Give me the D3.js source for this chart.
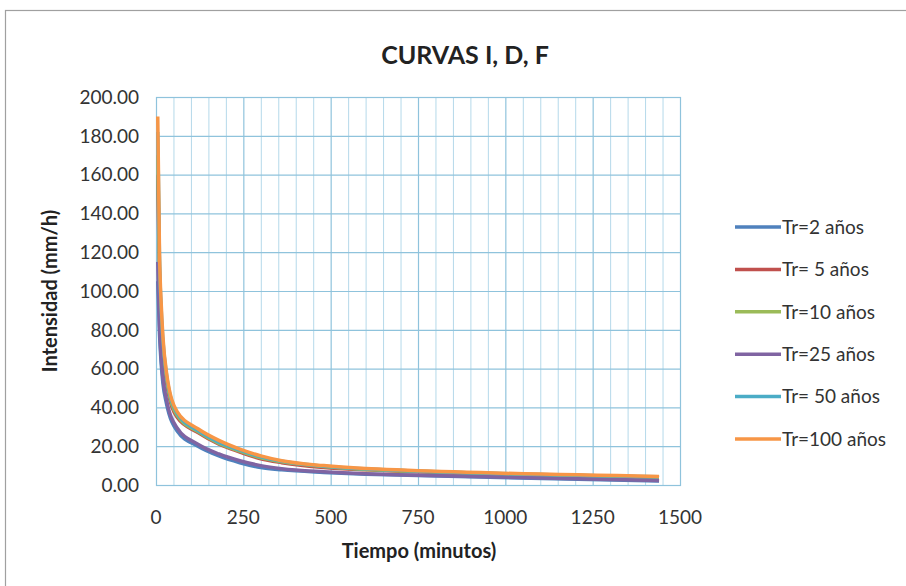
<!DOCTYPE html>
<html>
<head>
<meta charset="utf-8">
<script src="https://cdn.jsdelivr.net/npm/d3@7"></script>
<style>
  body { margin: 0; background: #fff; }
  svg { display: block; font-family: Lato, "Open Sans", sans-serif; }
</style>
</head>
<body>
<div id="chart"></div>
<script>
// duraciones (minutos) e intensidades (mm/h)
const durations = [5, 10, 15, 20, 30, 60, 120, 180, 240, 300, 360, 480, 600, 720, 1440];
const tr2   = [105, 78, 62, 52, 42, 28, 20, 15, 11.5, 9, 7.8, 6.5, 5.6, 5, 2];
const tr5   = [160, 105, 82, 68, 53, 35, 27, 21, 17, 13.5, 11.5, 9, 7.8, 7, 3.8];
const tr10  = [170, 110, 86, 71, 55, 36, 27.5, 21.5, 17.5, 14, 12, 9.5, 8, 7.2, 4];
const tr25  = [115, 82, 65, 55, 44, 29.5, 21, 16, 12.5, 10, 8.4, 6.8, 5.8, 5.2, 2.3];
const tr50  = [182, 116, 90, 74, 57, 37, 28, 22, 18, 14.5, 12.2, 9.7, 8.3, 7.4, 4.2];
const tr100 = [190, 120, 93, 76, 58, 38, 29, 23, 18.5, 15, 12.5, 10, 8.5, 7.6, 4.4];

const seriesNames = ["Tr=2 años", "Tr= 5 años", "Tr=10 años", "Tr=25 años", "Tr= 50 años", "Tr=100 años"];
const seriesColors = ["#4f81bd", "#c0504d", "#9bbb59", "#8064a2", "#4bacc6", "#f79646"];
const yTicks = [0, 20, 40, 60, 80, 100, 120, 140, 160, 180, 200];
const xTicks = [0, 250, 500, 750, 1000, 1250, 1500];

const width = 906, height = 586;
const plot = {left: 156, right: 680, top: 97, bottom: 485};

const svg = d3.select("#chart").append("svg")
    .attr("width", width)
    .attr("height", height);

// marco del gráfico
svg.append("rect")
    .attr("x", 5.5).attr("y", 10.5)
    .attr("width", width + 10).attr("height", height + 10)
    .attr("fill", "#fff")
    .attr("stroke", "#a0a0a0")
    .attr("stroke-width", 1.2);

const x = d3.scaleLinear().domain([0, 1500]).range([plot.left, plot.right]);
const y = d3.scaleLinear().domain([0, 200]).range([plot.bottom, plot.top]);

// rejilla menor vertical (cada 50 min)
svg.append("g")
    .selectAll("line")
    .data(d3.range(50, 1500, 50).filter(v => v % 250 !== 0))
    .join("line")
    .attr("x1", d => x(d) + 0.5).attr("x2", d => x(d) + 0.5)
    .attr("y1", plot.top).attr("y2", plot.bottom)
    .attr("stroke", "#b5d9ea")
    .attr("stroke-width", 1);

// rejilla principal
svg.append("g")
    .selectAll("line")
    .data(xTicks.slice(1, -1))
    .join("line")
    .attr("x1", d => x(d) + 0.5).attr("x2", d => x(d) + 0.5)
    .attr("y1", plot.top).attr("y2", plot.bottom)
    .attr("stroke", "#8fc3dc")
    .attr("stroke-width", 1.2);

svg.append("g")
    .selectAll("line")
    .data(yTicks)
    .join("line")
    .attr("x1", plot.left).attr("x2", plot.right)
    .attr("y1", d => y(d) + 0.5).attr("y2", d => y(d) + 0.5)
    .attr("stroke", "#8fc3dc")
    .attr("stroke-width", 1.2);

// borde del área de trazado
svg.append("rect")
    .attr("x", plot.left + 0.5).attr("y", plot.top + 0.5)
    .attr("width", plot.right - plot.left).attr("height", plot.bottom - plot.top)
    .attr("fill", "none")
    .attr("stroke", "#8fc3dc")
    .attr("stroke-width", 1.2);

// etiquetas de ejes
svg.append("g")
    .selectAll("text")
    .data(yTicks)
    .join("text")
    .attr("x", 139)
    .attr("y", d => y(d))
    .attr("dy", "0.36em")
    .attr("text-anchor", "end")
    .attr("font-size", 19)
    .attr("fill", "#333")
    .text(d => d3.format(".2f")(d));

svg.append("g")
    .selectAll("text")
    .data(xTicks)
    .join("text")
    .attr("x", d => x(d))
    .attr("y", 524)
    .attr("text-anchor", "middle")
    .attr("font-size", 19)
    .attr("fill", "#333")
    .text(d => d);

svg.append("text")
    .attr("x", 465).attr("y", 64)
    .attr("text-anchor", "middle")
    .attr("font-size", 25)
    .attr("font-weight", "bold")
    .attr("fill", "#222")
    .text("CURVAS I, D, F");

svg.append("text")
    .attr("x", 419).attr("y", 558)
    .attr("text-anchor", "middle")
    .attr("font-size", 20)
    .attr("font-weight", "bold")
    .attr("fill", "#222")
    .text("Tiempo (minutos)");

svg.append("text")
    .attr("transform", "translate(57,291) rotate(-90)")
    .attr("text-anchor", "middle")
    .attr("font-size", 20)
    .attr("font-weight", "bold")
    .attr("fill", "#222")
    .text("Intensidad (mm/h)");

// curvas
const allSeries = [tr2, tr5, tr10, tr25, tr50, tr100];
const line = d3.line()
    .x((d, i) => x(durations[i]))
    .y(d => y(d))
    .curve(d3.curveMonotoneX);

svg.append("g")
    .selectAll("path")
    .data(allSeries)
    .join("path")
    .attr("d", d => line(d))
    .attr("fill", "none")
    .attr("stroke", (d, i) => seriesColors[i])
    .attr("stroke-width", 3.5)
    .attr("stroke-linejoin", "round");

// leyenda
const legend = svg.append("g")
    .selectAll("g")
    .data(seriesNames)
    .join("g")
    .attr("transform", (d, i) => `translate(735,${227 + i * 42.4})`);

legend.append("line")
    .attr("x1", 0).attr("x2", 46)
    .attr("stroke", (d, i) => seriesColors[i])
    .attr("stroke-width", 3.5);

legend.append("text")
    .attr("x", 47)
    .attr("dy", "0.36em")
    .attr("font-size", 19)
    .attr("fill", "#333")
    .text(d => d);
</script>
</body>
</html>
